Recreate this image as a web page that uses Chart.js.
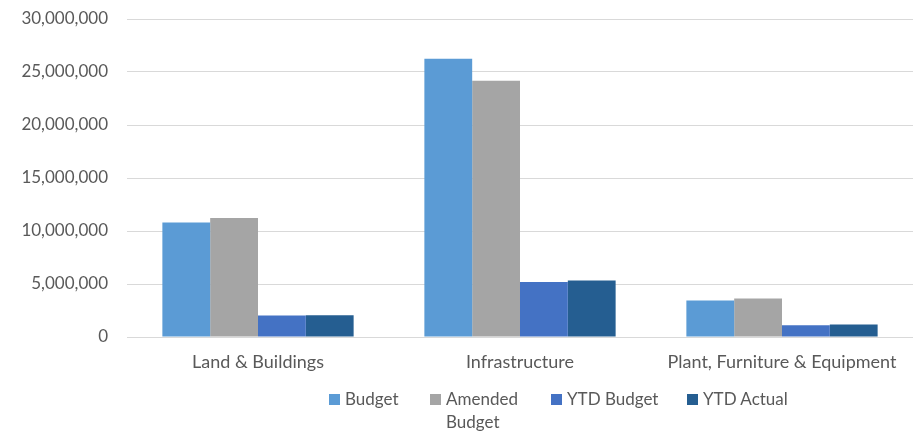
<!DOCTYPE html>
<html>
<head>
<meta charset="utf-8">
<script src="https://cdn.jsdelivr.net/npm/chart.js@4/dist/chart.umd.min.js"></script>
<style>
  html, body { margin: 0; padding: 0; background: #fff; }
  #wrap { position: relative; width: 914px; height: 435px; }
  canvas { position: absolute; left: 0; top: 0; }
  .leg { position: absolute; font-family: Lato, sans-serif; font-size: 17px; color: #595959; line-height: 23px; }
  .leg i { position: absolute; width: 11px; height: 11px; left: -16px; top: 7px; }
</style>
</head>
<body>
<div id="wrap">
  <canvas id="c" width="914" height="435"></canvas>
</div>
<script>
const categories = ["Land & Buildings", "Infrastructure", "Plant, Furniture & Equipment"];
const seriesNames = ["Budget", "Amended Budget", "YTD Budget", "YTD Actual"];
const budget = [10810000, 26250000, 3440000];
const amendedBudget = [11220000, 24170000, 3630000];
const ytdBudget = [2030000, 5200000, 1100000];
const ytdActual = [2050000, 5330000, 1170000];
const yTicks = [0, 5000000, 10000000, 15000000, 20000000, 25000000, 30000000];

const colors = ["#5B9BD5", "#A5A5A5", "#4472C4", "#255E91"];
const values = [budget, amendedBudget, ytdBudget, ytdActual];

const ctx = document.getElementById('c');
new Chart(ctx, {
  type: 'bar',
  data: {
    labels: categories,
    datasets: seriesNames.map((n, i) => ({
      label: n,
      data: values[i],
      backgroundColor: colors[i],
      borderWidth: 0,
      barPercentage: 1.0,
      categoryPercentage: 0.73
    }))
  },
  options: {
    responsive: false,
    maintainAspectRatio: false,
    animation: false,
    devicePixelRatio: 1,
    layout: { padding: { top: 19, right: 1, left: 0, bottom: 0 } },
    plugins: { legend: { display: false }, tooltip: { enabled: false } },
    scales: {
      x: {
        grid: { display: false, drawTicks: false },
        border: { display: false },
        ticks: { color: '#595959', font: { family: 'Lato', size: 18 }, padding: 14, maxRotation: 0, autoSkip: false },
        afterFit: (s) => { s.height = 98; s.paddingLeft = 0; s.paddingRight = 0; }
      },
      y: {
        min: 0, max: 30000000,
        afterBuildTicks: (s) => { s.ticks = yTicks.map(v => ({ value: v })); },
        grid: { color: '#D9D9D9', lineWidth: 1, drawTicks: false },
        border: { display: false },
        ticks: {
          color: '#595959', font: { family: 'Lato', size: 17 }, padding: 19,
          callback: (v) => v.toLocaleString('en-US')
        },
        afterFit: (s) => { s.width = 127; s.paddingTop = 0; s.paddingBottom = 0; }
      }
    }
  }
});

const wrap = document.getElementById('wrap');
const legPos = [[345, 387], [446, 387], [567, 387], [703, 387]];
const legText = ["Budget", "Amended<br>Budget", "YTD Budget", "YTD Actual"];
seriesNames.forEach((n, i) => {
  const d = document.createElement('div');
  d.className = 'leg';
  d.style.left = legPos[i][0] + 'px';
  d.style.top = legPos[i][1] + 'px';
  d.innerHTML = '<i style="background:' + colors[i] + '"></i>' + legText[i];
  wrap.appendChild(d);
});
</script>
</body>
</html>
